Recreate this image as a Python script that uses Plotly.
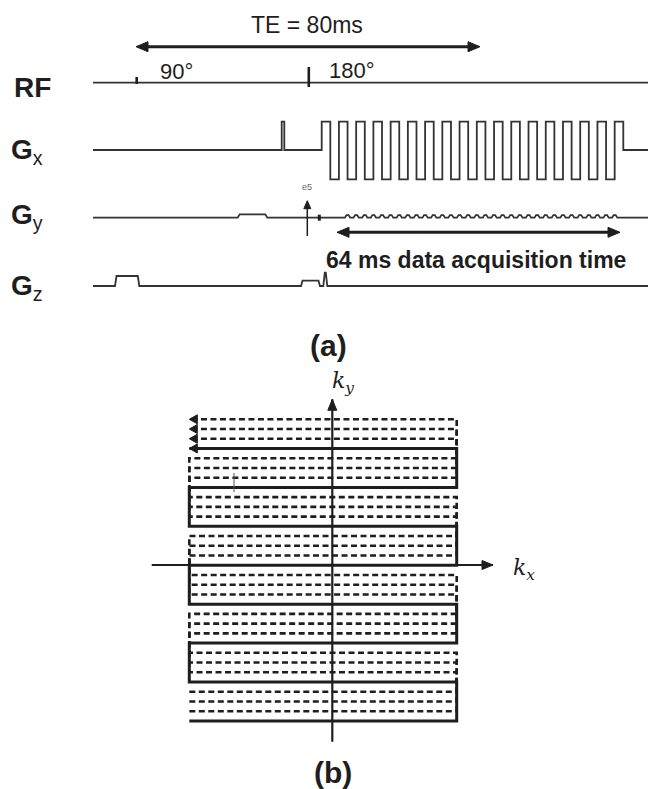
import plotly.graph_objects as go

W, H = 656, 789
PAGE_MARGIN = 8          # default <body> margin of the written page
INK = "#1e1e1e"
WAVE = "#333333"

# ---------------- panel (a): pulse sequence (x in px-time units, y rows) ----------------
seq_x = [93, 656]                       # start / end of every timing row
row_names = ["RF", "x", "y", "z"]
row_base = [82.7, 150.0, 217.7, 286.0]  # baseline of each row
row_label_y = [87, 151, 216, 287]

rf_pulse_x = [136.7, 308.8]
rf_pulse_top = [77.0, 67.0]
rf_pulse_bot = [84.0, 87.0]
rf_pulse_text = ["90°", "180°"]
rf_text_x = [176, 352]
rf_text_y = [71, 70]

te_span = [136.0, 480.0]
te_y = 46.7
te_text = "TE = 80ms"

gx_pre = [281.7, 284.3]
gx_train = [321.7, 623.3]
gx_half_lobes = 35
gx_top, gx_bot = 121.7, 179.3

gy_pre = [237.7, 267.3]
gy_pre_top = 214.3
gy_tick_x = 319.3
gy_blip_first = 3          # first half-lobe boundary carrying a blip
gy_blip_h = 2.6

e5_x = 307.3
e5_span = [236.0, 200.7]

gz_bumps_x0 = [115.0, 301.0, 323.3]
gz_bumps_x1 = [139.3, 320.0, 327.3]
gz_bumps_top = [276.0, 280.7, 272.7]

acq_span = [337.0, 620.0]
acq_y = 232.3
acq_text = "64 ms data acquisition time"

# ---------------- panel (b): k-space trajectory ----------------
k_left, k_right = 189.3, 456.7
k_top_line = 419.3
k_spacing = 9.73
k_lines = 32
k_shots = 4
kx_axis = [151.7, 493.0]
kx_axis_y = 565.0
ky_axis = [741.7, 399.3]
ky_axis_x = 332.3
cursor_x, cursor_span = 234.0, [473.0, 492.0]

fig = go.Figure()


def add_line(xs, ys, width=1.8, color=WAVE, dash="solid"):
    fig.add_trace(go.Scatter(x=xs, y=ys, mode="lines", hoverinfo="skip", showlegend=False,
                             line=dict(color=color, width=width, dash=dash)))


def add_head(tx, ty, dx, dy, length=10, half=4.5, color=INK):
    bx, by = tx - dx * length, ty - dy * length
    px, py = -dy, dx
    xs = [tx, bx + px * half, bx - px * half, tx]
    ys = [ty, by + py * half, by - py * half, ty]
    fig.add_trace(go.Scatter(x=xs, y=ys, mode="lines", fill="toself", fillcolor=color,
                             line=dict(color=color, width=1), hoverinfo="skip", showlegend=False))


# RF row
add_line(seq_x, [row_base[0]] * 2)
for x, t, b in zip(rf_pulse_x, rf_pulse_top, rf_pulse_bot):
    add_line([x, x], [t, b], width=2.6, color=INK)

# TE arrow
add_line([te_span[0] + 6, te_span[1] - 6], [te_y, te_y], width=3, color=INK)
add_head(te_span[0], te_y, -1, 0, length=12, half=5)
add_head(te_span[1], te_y, 1, 0, length=12, half=5)

# Gx row
b = row_base[1]
gxx = [seq_x[0], gx_pre[0], gx_pre[0], gx_pre[1], gx_pre[1], gx_train[0]]
gxy = [b, b, gx_top, gx_top, b, b]
h = (gx_train[1] - gx_train[0]) / gx_half_lobes
for k in range(gx_half_lobes):
    lvl = gx_top if k % 2 == 0 else gx_bot
    gxx += [gx_train[0] + k * h, gx_train[0] + (k + 1) * h]
    gxy += [lvl, lvl]
gxx += [gx_train[1], seq_x[1]]
gxy += [b, b]
add_line(gxx, gxy)

# Gy row
b = row_base[2]
gyx = [seq_x[0], gy_pre[0], gy_pre[0] + 2, gy_pre[1] - 2, gy_pre[1]]
gyy = [b, b, gy_pre_top, gy_pre_top, b]
for k in range(gy_blip_first, gx_half_lobes):
    xb = gx_train[0] + k * h
    gyx += [xb - 2.6, xb - 1, xb + 1, xb + 2.6]
    gyy += [b, b - gy_blip_h, b - gy_blip_h, b]
gyx += [seq_x[1]]
gyy += [b]
add_line(gyx, gyy)
add_line([gy_tick_x, gy_tick_x], [b - 3, b + 3], width=3, color=INK)

# e5 arrow
add_line([e5_x, e5_x], [e5_span[0], e5_span[1] + 6], width=1.5, color=INK)
add_head(e5_x, e5_span[1], 0, -1, length=8, half=3.5)

# acquisition arrow
add_line([acq_span[0] + 6, acq_span[1] - 6], [acq_y, acq_y], width=3, color=INK)
add_head(acq_span[0], acq_y, -1, 0, length=12, half=5)
add_head(acq_span[1], acq_y, 1, 0, length=12, half=5)

# Gz row
b = row_base[3]
gzx, gzy = [seq_x[0]], [b]
for x0, x1, top in zip(gz_bumps_x0, gz_bumps_x1, gz_bumps_top):
    gzx += [x0, x0 + 1.5, x1 - 1.5, x1]
    gzy += [b, top, top, b]
gzx += [seq_x[1]]
gzy += [b]
add_line(gzx, gzy)

# ---- k-space
line_y = [k_top_line + i * k_spacing for i in range(k_lines)]
for s in range(k_shots):
    idx = list(range(s, k_lines, k_shots))[::-1]   # bottom -> top
    xs, ys = [], []
    for step, li in enumerate(idx):
        y = line_y[li]
        if step % 2 == 0:
            xs += [k_left, k_right]
        else:
            xs += [k_right, k_left]
        ys += [y, y]
    solid = (s == k_shots - 1)
    add_line(xs, ys, width=3 if solid else 2.6, color=INK,
             dash="solid" if solid else "6px,3.5px")
    add_head(k_left, line_y[s], -1, 0, length=8, half=4.5)

add_line(kx_axis, [kx_axis_y] * 2, width=2.2, color=INK)
add_head(kx_axis[1], kx_axis_y, 1, 0, length=11, half=4.5)
add_line([ky_axis_x] * 2, ky_axis, width=2.2, color=INK)
add_head(ky_axis_x, ky_axis[1], 0, -1, length=11, half=4.5)
add_line([cursor_x] * 2, cursor_span, width=1, color="#555555")

# ---------------- text ----------------
SANS = "Liberation Sans, Arial, sans-serif"
SERIF = "DejaVu Serif, Liberation Serif, serif"


def txt(x, y, s, size, bold=False, color=INK, family=SANS, xanchor="center"):
    fig.add_annotation(x=x, y=y, xref="x", yref="y", text=f"<b>{s}</b>" if bold else s,
                       showarrow=False, xanchor=xanchor, yanchor="middle",
                       font=dict(size=size, color=color, family=family))


txt(307, 25, te_text, 23)
txt(12, row_label_y[0], "RF", 28, bold=True, xanchor="left")
for name, y in zip(row_names[1:], row_label_y[1:]):
    txt(9, y, f"<b>G</b><sub>{name}</sub>", 28, xanchor="left")
for x, y, t in zip(rf_text_x, rf_text_y, rf_pulse_text):
    txt(x, y, t, 22)
txt(e5_x, 187, "e5", 9, color="#666666")
txt(476, 260, acq_text, 23, bold=True)
txt(328, 345, "(a)", 30, bold=True)
txt(333, 772, "(b)", 30, bold=True)
txt(343, 382, "<i>k</i><sub><i>y</i></sub>", 22, family=SERIF)
txt(524, 569, "<i>k</i><sub><i>x</i></sub>", 22, family=SERIF)

# axis ranges shifted by the page margin so that data units equal page pixels
fig.update_layout(width=W, height=H, margin=dict(l=0, r=0, t=0, b=0),
                  paper_bgcolor="white", plot_bgcolor="white",
                  xaxis=dict(range=[PAGE_MARGIN, W + PAGE_MARGIN], visible=False, fixedrange=True),
                  yaxis=dict(range=[H + PAGE_MARGIN, PAGE_MARGIN], visible=False, fixedrange=True))
fig.write_html("out.html")
